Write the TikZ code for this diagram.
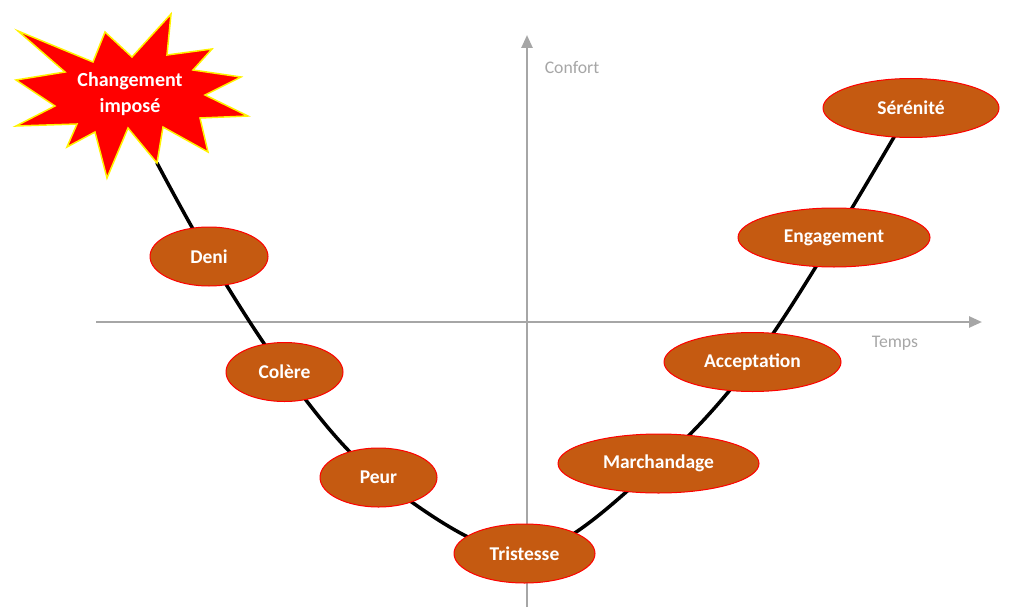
\documentclass[tikz,border=0pt]{standalone}
\usepackage{fontspec}
\setmainfont{Carlito}
\usetikzlibrary{shapes.geometric, arrows.meta}

\definecolor{brun}{HTML}{C55A11}
\definecolor{axegris}{HTML}{A6A6A6}

\tikzset{
  etape/.style={ellipse, draw=red, line width=1pt, fill=brun, text=white,
    font=\fontsize{19.5}{23}\selectfont\bfseries, inner sep=0pt, minimum height=59},
  axe/.style={draw=axegris, line width=2.5pt, -{Triangle[length=13pt,width=11pt]}},
  courbe/.style={line width=3.5pt, line cap=round},
  legende/.style={text=axegris, font=\fontsize{17.7}{20}\selectfont}
}

\begin{document}
\begin{tikzpicture}[x=1pt, y=-1pt]
  \useasboundingbox (0,0) rectangle (1024,607);

  \coordinate (cStart) at (157,163);
  \coordinate (cDeni) at (209,256.5);
  \coordinate (cColere) at (284.5,372);
  \coordinate (cPeur) at (378.5,477.5);
  \coordinate (cTristesse) at (524.5,553.5);
  \coordinate (cMarch) at (658.5,463.5);
  \coordinate (cAccept) at (752.5,362);
  \coordinate (cEngag) at (834,237.5);
  \coordinate (cSerenite) at (911,108);

  \draw[axe] (96,322) -- (982,322);
  \draw[axe] (527,607) -- (527,35);
  \node[legende] (confort) at (572,67) {Confort};
  \node[legende] (temps) at (895,343) {Temps};

  \draw[courbe] plot[smooth, tension=0.55] coordinates {(cStart) (cDeni) (cColere) (cPeur) (cTristesse) (cMarch) (cAccept) (cEngag) (cSerenite)};

  \draw[fill=red, draw=yellow, line width=1.5pt, line join=miter]
    (18,31) -- (93,62) -- (105,32) -- (132,57) -- (171,14) -- (167,55) -- (212,49) -- (193,70)
    -- (241,77) -- (205,95) -- (248,116) -- (200,118) -- (208,152) -- (163,127) -- (157,163)
    -- (128,128) -- (107,178) -- (95,132) -- (67,147) -- (77,124) -- (16,126) -- (55,106)
    -- (16,80) -- (65,72) -- cycle;
  \node[text=white, font=\fontsize{20}{26}\selectfont\bfseries, align=center] (choc) at (130,94) {Changement\\impos\'e};

  \node[etape, minimum width=118] (deni) at (cDeni) {Deni};
  \node[etape, minimum width=117] (colere) at (cColere) {Col\`ere};
  \node[etape, minimum width=117] (peur) at (cPeur) {Peur};
  \node[etape, minimum width=141] (tristesse) at (cTristesse) {Tristesse};
  \node[etape, minimum width=201] (marchandage) at (cMarch) {Marchandage};
  \node[etape, minimum width=177] (acceptation) at (cAccept) {Acceptation};
  \node[etape, minimum width=192] (engagement) at (cEngag) {Engagement};
  \node[etape, minimum width=176] (serenite) at (cSerenite) {S\'er\'enit\'e};
\end{tikzpicture}
\end{document}
